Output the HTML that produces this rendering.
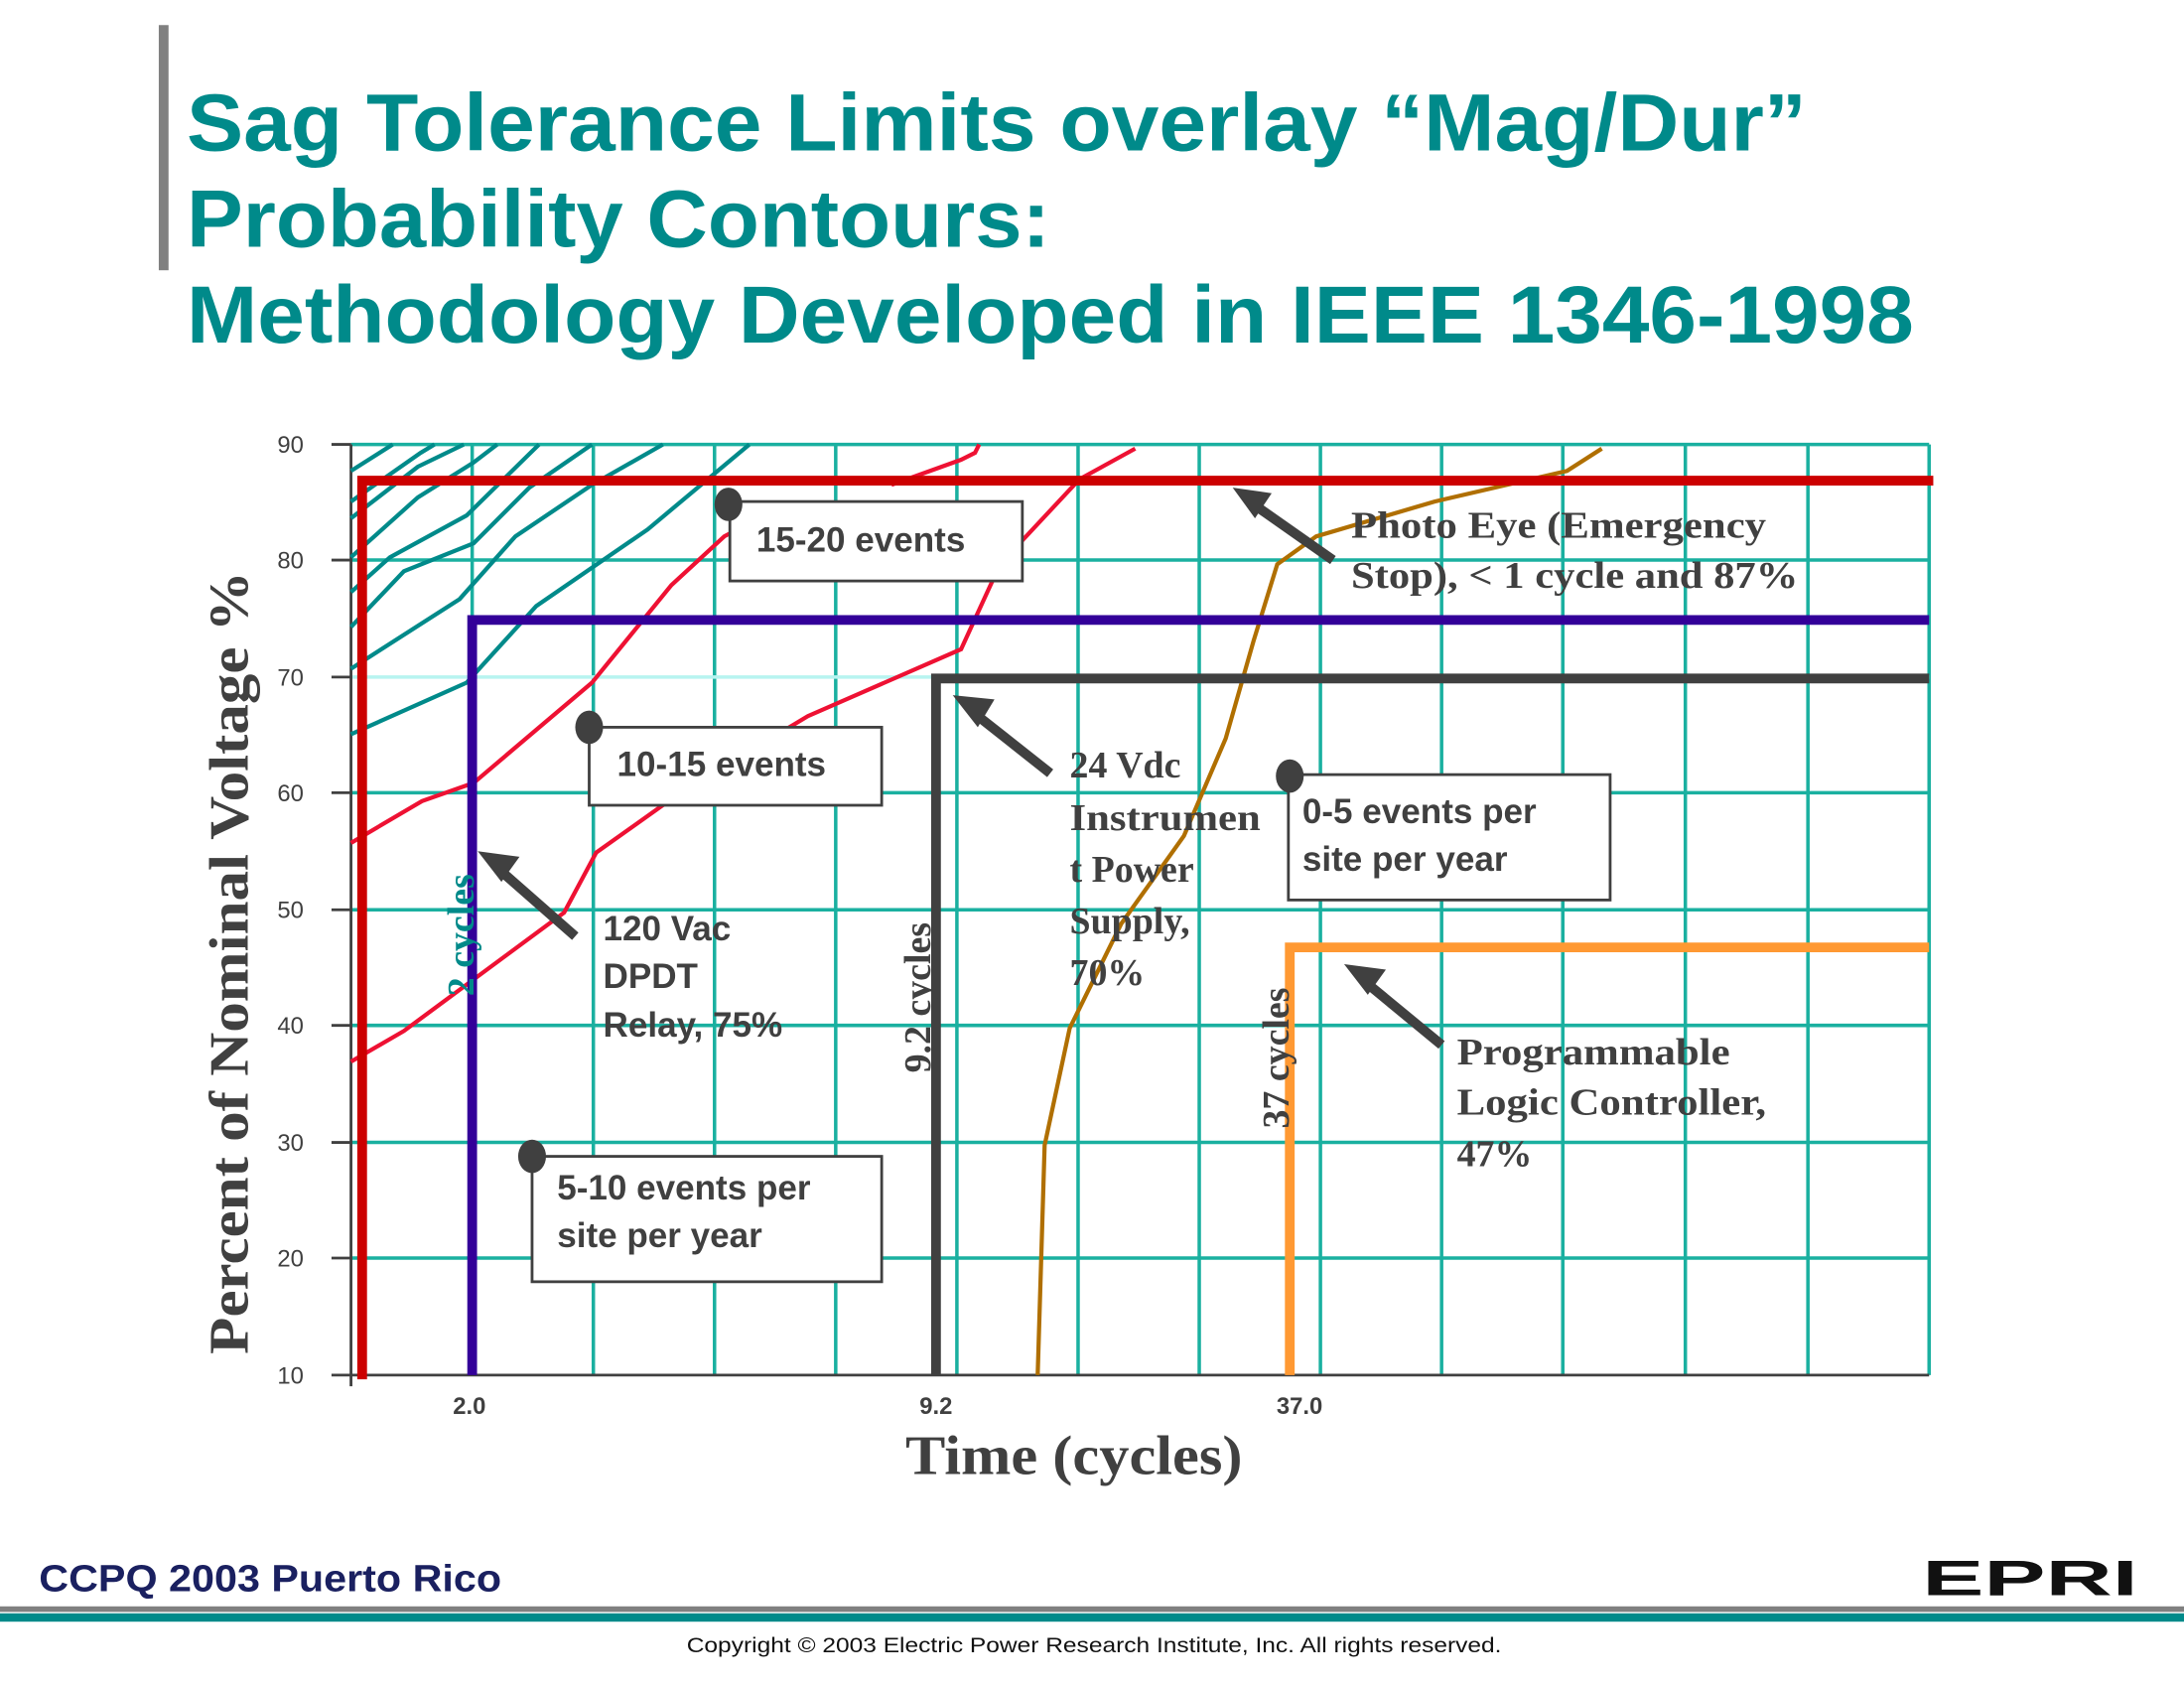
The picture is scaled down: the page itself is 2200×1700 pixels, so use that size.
<!DOCTYPE html>
<html><head><meta charset="utf-8"><style>
html,body{margin:0;padding:0;background:#fff;}
svg{display:block}
.t{font-family:"Liberation Sans",sans-serif;font-weight:bold;fill:#008a8a;font-size:58px}
.b{font-family:"Liberation Sans",sans-serif;font-weight:bold;fill:#404040;font-size:25px}
.s{font-family:"Liberation Serif",serif;font-weight:bold;fill:#404040;font-size:27px}
.ax{font-family:"Liberation Sans",sans-serif;fill:#404040;font-size:17px}
</style></head><body>
<svg width="2200" height="1700" viewBox="0 0 1568 1211.6" preserveAspectRatio="none" xmlns="http://www.w3.org/2000/svg">
<rect x="114" y="18" width="7" height="176" fill="#808080"/>
<text class="t" x="134" y="108" textLength="1163" lengthAdjust="spacingAndGlyphs">Sag Tolerance Limits overlay “Mag/Dur”</text>
<text class="t" x="134" y="177" textLength="620" lengthAdjust="spacingAndGlyphs">Probability Contours:</text>
<text class="t" x="134" y="246" textLength="1240" lengthAdjust="spacingAndGlyphs">Methodology Developed in IEEE 1346-1998</text>
<g stroke="#1ab0a0" stroke-width="2.5" fill="none">
<path d="M339 319V987M426 319V987M513 319V987M600 319V987M687 319V987M774 319V987M861 319V987M948 319V987M1035 319V987M1122 319V987M1210 319V987M1298 319V987M1385 319V987"/>
<path d="M252 319H1385M252 402H1385M252 569H1385M252 653H1385M252 736H1385M252 820H1385M252 903H1385"/>
</g>
<path d="M252 486H1385" stroke="#b8f4f0" stroke-width="2.5"/>
<path d="M252 987H1385M252 319V995" stroke="#404040" stroke-width="2"/>
<g stroke="#404040" stroke-width="2"><path d="M238 319h14M238 402h14M238 486h14M238 569h14M238 653h14M238 736h14M238 820h14M238 903h14M238 987h14"/></g>
<g class="ax" text-anchor="end">
<text x="218" y="325">90</text><text x="218" y="408">80</text><text x="218" y="492">70</text><text x="218" y="575">60</text><text x="218" y="659">50</text><text x="218" y="742">40</text><text x="218" y="826">30</text><text x="218" y="909">20</text><text x="218" y="993">10</text>
</g>
<g class="ax" font-weight="bold" text-anchor="middle"><text x="337" y="1015">2.0</text><text x="672" y="1015">9.2</text><text x="933" y="1015">37.0</text></g>
<g stroke="#008a8a" stroke-width="3" fill="none">
<path d="M252 338L282 319"/><path d="M252 360L302 325L312 319"/><path d="M252 372L300 335L333 319"/>
<path d="M252 400L300 357L340 332L357 319"/>
<path d="M252 425L280 400L335 370L387 319"/>
<path d="M252 450L290 410L340 390L380 350L425 319"/>
<path d="M252 480L330 430L370 385L425 348L476 319"/>
<path d="M252 527L335 490L385 435L465 380L538 319"/>
</g>
<g stroke="#ee1133" stroke-width="3" fill="none">
<path d="M252 605L303 575L340 562L425 490L482 420L520 385L537 376"/>
<path d="M252 762L290 740L405 655L428 612L487 570L580 514L690 466L718 405L775 344L815 322"/>
<path d="M640 348L690 330L700 325L703 319"/>
</g>
<path d="M745 987L750 822L768 738L805 663L850 600L880 530L900 460L917 405L945 385L1030 360L1125 338L1150 322" stroke="#b06f00" stroke-width="3" fill="none"/>
<path d="M260 990V345H1388" stroke="#cc0000" stroke-width="7" fill="none"/>
<path d="M339 987V445H1385" stroke="#330099" stroke-width="7" fill="none"/>
<path d="M672 987V487H1385" stroke="#404040" stroke-width="7" fill="none"/>
<path d="M926 987V680H1385" stroke="#ff9933" stroke-width="7" fill="none"/>
<g fill="#fff" stroke="#404040" stroke-width="2">
<rect x="524" y="360" width="210" height="57"/>
<rect x="423" y="522" width="210" height="56"/>
<rect x="925" y="556" width="231" height="90"/>
<rect x="382" y="830" width="251" height="90"/>
</g>
<g fill="#404040">
<ellipse cx="523" cy="362" rx="10" ry="12"/><ellipse cx="423" cy="522" rx="10" ry="12"/>
<ellipse cx="926" cy="557" rx="10" ry="12"/><ellipse cx="382" cy="830" rx="10" ry="12"/>
</g>
<g class="b">
<text x="543" y="396">15-20 events</text>
<text x="443" y="557">10-15 events</text>
<text x="935" y="591">0-5 events per</text><text x="935" y="625">site per year</text>
<text x="400" y="861">5-10 events per</text><text x="400" y="895">site per year</text>
<text x="433" y="675">120 Vac</text><text x="433" y="709">DPDT</text><text x="433" y="744">Relay, 75%</text>
</g>
<g class="s">
<text x="970" y="386" textLength="298" lengthAdjust="spacingAndGlyphs">Photo Eye (Emergency</text><text x="970" y="422" textLength="321" lengthAdjust="spacingAndGlyphs">Stop), &lt; 1 cycle and 87%</text>
<text x="768" y="558">24 Vdc</text><text x="768" y="596" textLength="137" lengthAdjust="spacingAndGlyphs">Instrumen</text><text x="768" y="633">t Power</text><text x="768" y="670">Supply,</text><text x="768" y="707">70%</text>
<text x="1046" y="764" textLength="196" lengthAdjust="spacingAndGlyphs">Programmable</text><text x="1046" y="800" textLength="222" lengthAdjust="spacingAndGlyphs">Logic Controller,</text><text x="1046" y="837">47%</text>
</g>
<g stroke="#404040" stroke-width="7" fill="#404040">
<path d="M957 402L900 362"/><path d="M885 350l28 4l-12 18z" stroke="none"/>
<path d="M754 555L697 510"/><path d="M684 499l30 3l-12 20z" stroke="none"/>
<path d="M413 672L356 622"/><path d="M343 611l30 4l-13 18z" stroke="none"/>
<path d="M1035 750L978 703"/><path d="M965 692l30 4l-13 18z" stroke="none"/>
</g>
<g font-family="Liberation Serif,serif" font-weight="bold" font-size="27">
<text transform="translate(340,715) rotate(-90)" fill="#008a8a">2 cycles</text>
<text transform="translate(668,770) rotate(-90)" fill="#404040">9.2 cycles</text>
<text transform="translate(925,810) rotate(-90)" fill="#404040">37 cycles</text>
<text transform="translate(178,972) rotate(-90)" fill="#404040" font-size="40" textLength="562" lengthAdjust="spacingAndGlyphs">Percent of Nominal Voltage %</text>
<text x="650" y="1058" fill="#404040" font-size="40" textLength="242" lengthAdjust="spacingAndGlyphs">Time (cycles)</text>
</g>
<text x="28" y="1142" font-family="Liberation Sans,sans-serif" font-weight="bold" font-size="27" fill="#1a2060" textLength="332" lengthAdjust="spacingAndGlyphs">CCPQ 2003 Puerto Rico</text>
<text x="1380" y="1145" font-family="Liberation Sans,sans-serif" font-weight="bold" font-size="36" fill="#111" textLength="155" lengthAdjust="spacingAndGlyphs">EPRI</text>
<rect x="0" y="1153" width="1568" height="4" fill="#808080"/>
<rect x="0" y="1158" width="1568" height="6" fill="#008a8a"/>
<text x="493" y="1186" font-family="Liberation Sans,sans-serif" font-size="15" fill="#111" textLength="585" lengthAdjust="spacingAndGlyphs">Copyright © 2003 Electric Power Research Institute, Inc. All rights reserved.</text>
</svg>
</body></html>
